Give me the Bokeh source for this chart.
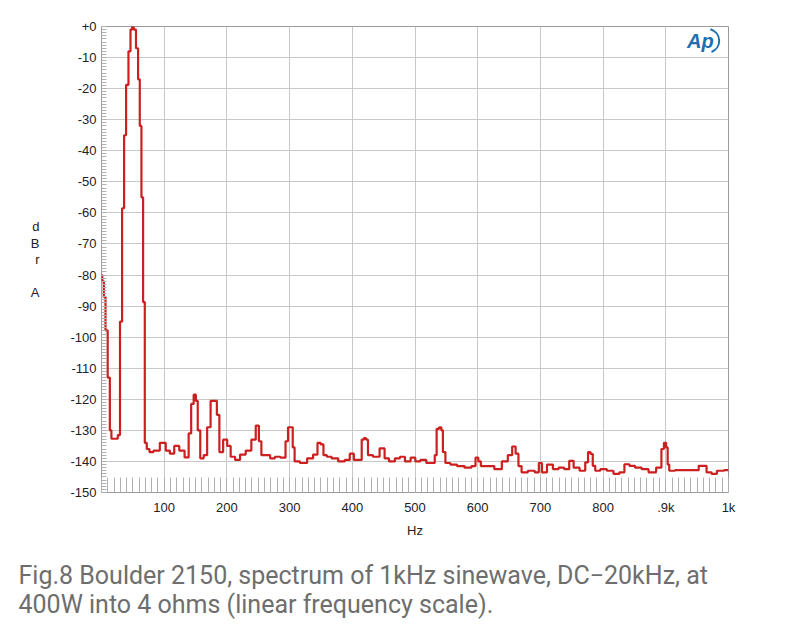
from bokeh.plotting import figure
from bokeh.models import FixedTicker, Label, Range1d, Title
from bokeh.embed import file_html
from bokeh.resources import INLINE

# Spectrum (Hz, dBr A)
freq_hz = [0, 2.4, 5, 7.7, 12, 14.6, 17, 24, 28, 31, 34.7, 37.4, 41, 45, 47.5, 50,
           53, 57, 59.7, 62.4, 65, 67.7, 70.4, 74, 79, 87, 99, 106, 112, 120, 128,
           137, 141, 145, 149, 152, 155, 160, 166, 171, 177, 182, 186, 190, 198, 203,
           209, 217, 225, 235, 243, 249, 253, 257, 265, 273, 280, 291, 296, 299, 304,
           306, 310, 323, 333, 342, 347, 352, 356, 363, 371, 384, 392, 400, 405, 413,
           417, 420, 424, 426, 440, 447, 450, 453, 464, 472, 480, 488, 498, 503, 514,
           522, 530, 533, 536, 541, 543, 546, 551, 562, 572, 586, 594, 599, 603, 607,
           620, 633, 644, 652, 658, 663, 667, 673, 687, 695, 700, 705, 716, 724, 734,
           742, 750, 756, 769, 774, 778, 782, 785, 790, 801, 811, 822, 830, 838, 846,
           856, 867, 878, 891, 895, 899, 902, 904, 907, 923, 944, 961, 969, 977, 986,
           1000]
level_db = [-80, -82, -87, -97.8, -113, -130, -132.7, -132.7, -131.5, -95, -58.5, -35,
            -18.8, -8, -1, 0, -1, -7, -17, -32, -55, -88.7, -134, -136, -137, -136.5,
            -134, -136.5, -137.5, -135, -136.5, -138.7, -131, -121.5, -118.5, -120.5,
            -130, -139, -138, -129, -120.5, -120.5, -125, -137, -133, -135, -138.5,
            -139.5, -137.8, -136.5, -133, -128.5, -133.5, -138, -138, -139, -138.5,
            -138.8, -133.5, -129, -129, -135.5, -140, -140.5, -139, -137.8, -134,
            -134.5, -138, -138.5, -139, -140, -139.5, -137.5, -139.5, -139.5, -133,
            -132.5, -133, -138, -138.5, -135.8, -135.8, -139, -140, -139, -138.5,
            -140, -138.8, -140, -139.5, -140.5, -140.5, -138, -129.5, -129, -130,
            -137, -140.5, -141, -141.5, -142, -141.5, -138.8, -140, -141.5, -141.5,
            -142.5, -140, -138, -135.2, -137.5, -141.5, -143.5, -143, -143.5, -140.5,
            -143.5, -141, -142.5, -142, -142.5, -139.8, -142, -143, -140.3, -137,
            -137.6, -141.4, -143, -142.5, -143, -144, -143.5, -140.9, -141.4, -142,
            -142.5, -143.5, -142, -136, -134, -135.5, -141, -143, -142.8, -142.8,
            -141.4, -143.5, -144, -143, -142.8]

x_major = [100, 200, 300, 400, 500, 600, 700, 800, 900, 1000]
x_labels = {900: ".9k", 1000: "1k"}
y_major = list(range(-150, 1, 10))
y_labels = {v: ("+0" if v == 0 else str(v)) for v in y_major}
y_title = "d\nB\nr\n\nA"
caption = ("Fig.8 Boulder 2150, spectrum of 1kHz sinewave, DC\u221220kHz, at\n"
           "400W into 4 ohms (linear frequency scale).")

p = figure(width=800, height=636, output_backend="svg", toolbar_location=None,
           x_range=Range1d(0, 1000), y_range=Range1d(-150, 0),
           min_border_left=101, min_border_right=72, min_border_top=26,
           min_border_bottom=144)
p.background_fill_color = "white"
p.border_fill_color = "white"
p.outline_line_color = "#9a9a9a"
p.outline_line_width = 1

p.step(freq_hz, level_db, mode="center", line_color="#cc1f1f", line_width=2.2)

# axes
xa = p.xaxis[0]
xa.ticker = FixedTicker(ticks=x_major, minor_ticks=list(range(0, 1001, 10)))
xa.major_label_overrides = x_labels
xa.axis_line_color = None
xa.major_tick_out = 0
xa.major_tick_in = 0
xa.minor_tick_out = 0
xa.minor_tick_in = 15
xa.minor_tick_line_color = "#b0b0b0"
xa.major_label_standoff = 7
xa.major_label_text_font = "Liberation Sans"
xa.major_label_text_font_size = "13px"
xa.major_label_text_color = "#222222"
xa.axis_label = "Hz"
xa.axis_label_text_font = "Liberation Sans"
xa.axis_label_text_font_size = "13px"
xa.axis_label_text_font_style = "normal"
xa.axis_label_text_color = "#222222"
xa.axis_label_standoff = 5

ya = p.yaxis[0]
ya.ticker = FixedTicker(ticks=y_major, minor_ticks=list(range(-150, 1, 1)))
ya.major_label_overrides = y_labels
ya.axis_line_color = None
ya.major_tick_out = 0
ya.major_tick_in = 0
ya.minor_tick_out = 0
ya.minor_tick_in = 5
ya.minor_tick_line_color = "#b0b0b0"
ya.major_label_standoff = 5
ya.major_label_text_font = "Liberation Sans"
ya.major_label_text_font_size = "13px"
ya.major_label_text_color = "#222222"
ya.axis_label = y_title
ya.axis_label_orientation = "horizontal"
ya.axis_label_text_font = "Liberation Sans"
ya.axis_label_text_font_size = "13px"
ya.axis_label_text_font_style = "normal"
ya.axis_label_text_color = "#222222"
ya.axis_label_text_line_height = 1.1
ya.axis_label_standoff = 28

p.xgrid.ticker = FixedTicker(ticks=x_major)
p.ygrid.ticker = FixedTicker(ticks=y_major)
p.xgrid.grid_line_color = "#c8c8c8"
p.ygrid.grid_line_color = "#c8c8c8"

# AP logo
p.add_layout(Label(x=955, y=-4.6, text="Ap", text_align="center",
                   text_baseline="middle", text_font="Liberation Sans",
                   text_font_style="bold italic", text_font_size="20px",
                   text_color="#1d6fae"))
p.arc(x=[966], y=[-4.6], radius=12, radius_units="screen", start_angle=-1.2,
      end_angle=1.3, line_color="#1d6fae", line_width=2)

# caption
p.add_layout(Title(text=caption, align="left", offset=-83,
                   text_font="Roboto", text_font_size="25px",
                   text_font_style="normal", text_color="#6e6e6e",
                   text_line_height=1.0, standoff=36), "below")

open("out.html", "w").write(file_html(p, INLINE))
